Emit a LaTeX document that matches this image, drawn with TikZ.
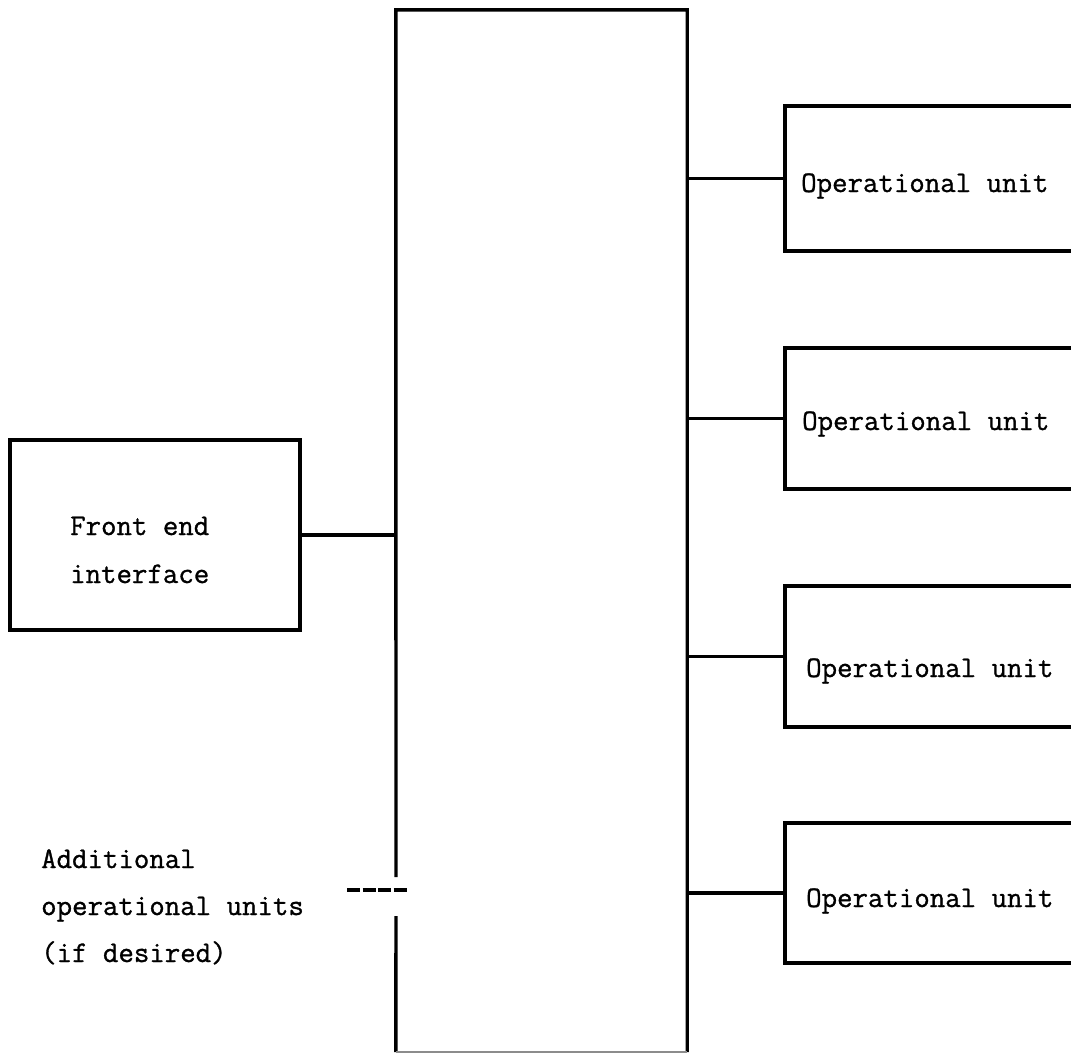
\documentclass[tikz,border=0pt]{standalone}
\usepackage{fontspec}
\newfontfamily\typefont{Latin Modern Mono}[FakeBold=1]
\begin{document}
\begin{tikzpicture}[x=1pt,y=-1pt,
  box/.style={draw, line width=3.4pt, inner sep=0pt},
  wire/.style={line width=3.4pt},
  faint/.style={line width=1.6pt, draw=black!45},
  lbl/.style={inner sep=0pt, anchor=base west, font=\typefont\fontsize{30}{47}\selectfont}]
\useasboundingbox (0,0) rectangle (1071,1055);
\clip (0,0) rectangle (1071,1055);

% central bus block (outline drawn separately to leave the expansion gap)
\node[inner sep=0pt, minimum width=291pt, minimum height=1042pt] (bus) at (541.5,531) {};
\coordinate (gapt) at (396,877);
\coordinate (gapb) at (396,916);
\draw[wire] (gapt) -- (bus.north west) -- (bus.north east) -- (bus.south east);
\draw[wire] (gapb) -- (bus.south west);
\draw[faint] (bus.south west) -- (bus.south east);

% expansion stub
\coordinate (addl) at (347,890);
\coordinate (addr) at (407,890);
\draw[wire, dash pattern=on 13pt off 2.5pt] (addl) -- (addr);

% front end interface
\node[box, minimum width=290pt, minimum height=190pt] (fe) at (155,535) {};
\node[lbl] (fe1) at (70,535) {Front end};
\node[lbl] (fe2) at (70,583) {interface};
\draw[wire] (fe.east) -- (fe.east -| bus.west);

% operational units
\node[box, minimum width=315pt, minimum height=145pt] (u1) at (942.5,178.5) {};
\node[box, minimum width=315pt, minimum height=141pt] (u2) at (942.5,418.5) {};
\node[box, minimum width=315pt, minimum height=141pt] (u3) at (942.5,656.5) {};
\node[box, minimum width=315pt, minimum height=140pt] (u4) at (942.5,893) {};
\node[lbl] (t1) at (801,192) {Operational unit};
\node[lbl] (t2) at (802,430) {Operational unit};
\node[lbl] (t3) at (806,677) {Operational unit};
\node[lbl] (t4) at (806,907) {Operational unit};
\foreach \u in {u1,u2,u3,u4}
  \draw[wire] (\u.west) -- (\u.west -| bus.east);

% note beside the stub
\node[lbl] (a1) at (41,868) {Additional};
\node[lbl] (a2) at (41,915) {operational units};
\node[lbl] (a3) at (41,962) {(if desired)};
\end{tikzpicture}
\end{document}
